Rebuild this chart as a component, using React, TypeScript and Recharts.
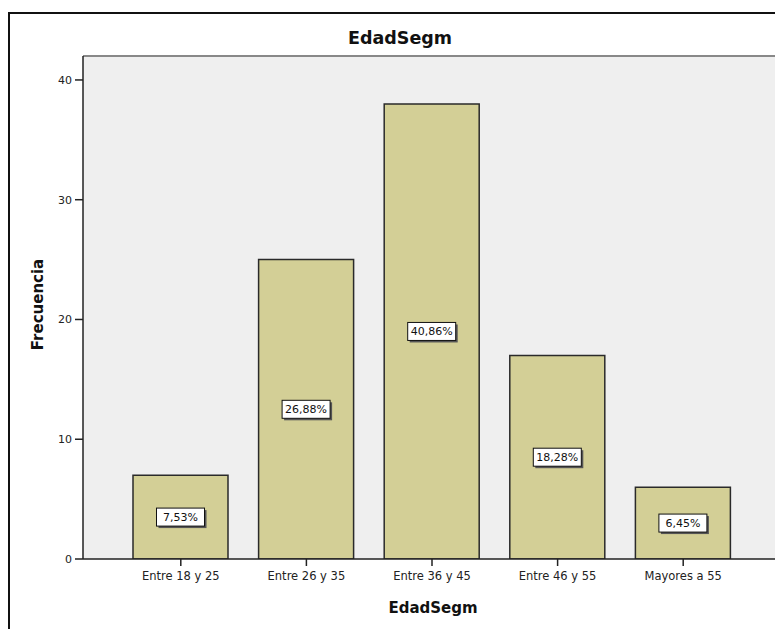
import React from "react";
import {
  BarChart,
  Bar,
  XAxis,
  YAxis,
  CartesianGrid,
  LabelList,
  ReferenceLine,
  Label,
} from "recharts";

const categories = [
  "Entre 18 y 25",
  "Entre 26 y 35",
  "Entre 36 y 45",
  "Entre 46 y 55",
  "Mayores a 55",
];
const frecuencias = [7, 25, 38, 17, 6];
const porcentajes = ["7,53%", "26,88%", "40,86%", "18,28%", "6,45%"];
const yTicks = [0, 10, 20, 30, 40];

const data = categories.map((c, i) => ({
  cat: c,
  value: frecuencias[i],
  pct: porcentajes[i],
}));

const FONT = "'DejaVu Sans', sans-serif";

const PctLabel = (props: any) => {
  const { x, y, width, height, value } = props;
  const cx = Number(x) + Number(width) / 2;
  const cy = Number(y) + Number(height) / 2;
  const w = 48;
  const h = 18;
  return (
    <g>
      <rect x={cx - w / 2 + 2} y={cy - h / 2 + 2} width={w} height={h} fill="#555" />
      <rect x={cx - w / 2} y={cy - h / 2} width={w} height={h} fill="#ffffff" stroke="#111" strokeWidth={1} />
      <text
        x={cx}
        y={cy}
        textAnchor="middle"
        dominantBaseline="central"
        fontFamily={FONT}
        fontSize={11}
        fill="#111"
      >
        {value}
      </text>
    </g>
  );
};

const YTitle = (props: any) => {
  const vb = props.viewBox || {};
  const x = 38;
  const y = vb.y + vb.height / 2 - 3;
  return (
    <text
      x={x}
      y={y}
      transform={`rotate(-90, ${x}, ${y})`}
      textAnchor="middle"
      dominantBaseline="central"
      fontFamily={FONT}
      fontWeight="bold"
      fontSize={15}
      fill="#111"
    >
      Frecuencia
    </text>
  );
};

const XTitle = () => {
  const x = 433;
  const y = 613;
  return (
    <text
      x={x}
      y={y}
      textAnchor="middle"
      fontFamily={FONT}
      fontWeight="bold"
      fontSize={15}
      fill="#111"
    >
      EdadSegm
    </text>
  );
};

export default function App() {
  return (
    <div
      style={{
        position: "fixed",
        left: 0,
        top: 0,
        width: 775,
        height: 629,
        overflow: "hidden",
        background: "#ffffff",
      }}
    >
      <div
        style={{
          position: "absolute",
          left: 8,
          top: 12,
          width: 820,
          height: 700,
          border: "2px solid #111",
          boxSizing: "border-box",
        }}
      />
      <div
        style={{
          position: "absolute",
          left: 300,
          top: 28,
          width: 200,
          textAlign: "center",
          fontFamily: FONT,
          fontWeight: "bold",
          fontSize: 17.5,
          lineHeight: "20px",
          color: "#111",
        }}
      >
        EdadSegm
      </div>
      <div style={{ position: "absolute", left: 0, top: 0 }}>
        <BarChart
          width={775}
          height={629}
          data={data}
          margin={{ top: 56, right: 0, bottom: 0, left: 0 }}
        >
          <CartesianGrid fill="#efefef" horizontal={false} vertical={false} />
          <XAxis
            dataKey="cat"
            height={70}
            padding={{ left: 35, right: 29 }}
            tickSize={7}
            tickMargin={6}
            axisLine={{ stroke: "#222", strokeWidth: 1.5 }}
            tickLine={{ stroke: "#222", strokeWidth: 1.5 }}
            tick={{ fontFamily: FONT, fontSize: 11.5, fill: "#222" }}
            interval={0}
          >
            <Label content={<XTitle />} />
          </XAxis>
          <YAxis
            width={83}
            domain={[0, 42]}
            ticks={yTicks}
            allowDataOverflow
            tickSize={8}
            tickMargin={3}
            axisLine={{ stroke: "#222", strokeWidth: 1.5 }}
            tickLine={{ stroke: "#222", strokeWidth: 1.5 }}
            tick={{ fontFamily: FONT, fontSize: 11, fill: "#222" }}
          >
            <Label content={<YTitle />} />
          </YAxis>
          <ReferenceLine y={42} stroke="#888" strokeWidth={2} />
          <Bar
            dataKey="value"
            fill="#d3cf96"
            stroke="#2a2a2a"
            strokeWidth={1.5}
            barSize={95}
            isAnimationActive={false}
          >
            <LabelList dataKey="pct" content={<PctLabel />} />
          </Bar>
        </BarChart>
      </div>
    </div>
  );
}
